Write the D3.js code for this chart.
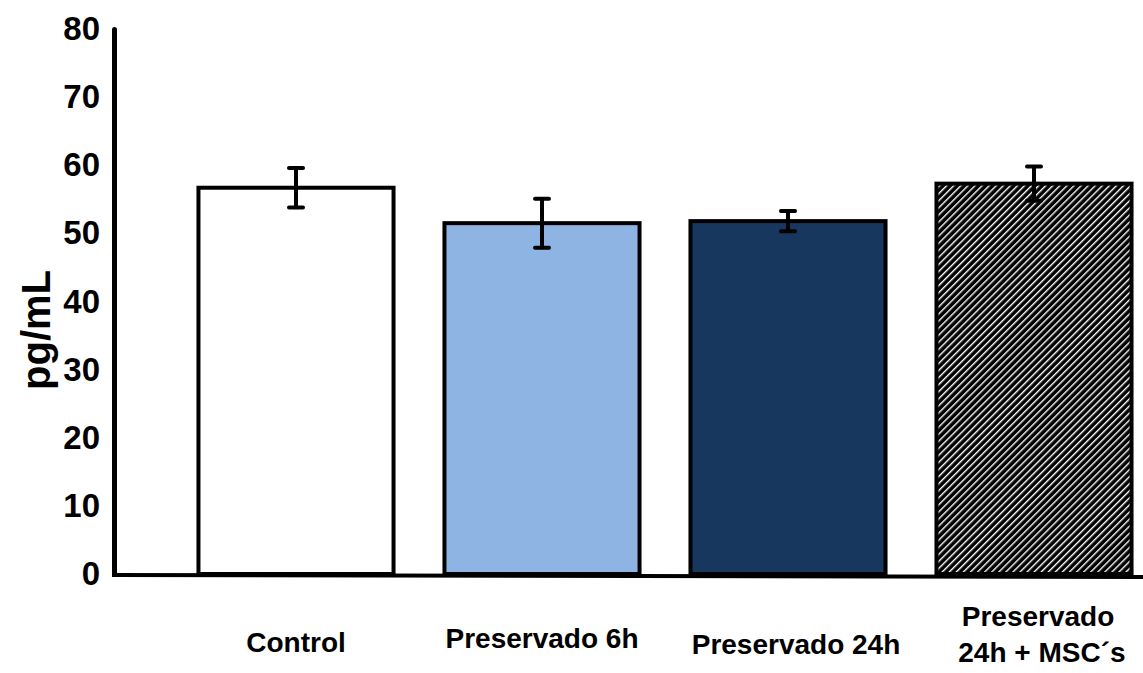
<!DOCTYPE html>
<html>
<head>
<meta charset="utf-8">
<script src="https://cdn.jsdelivr.net/npm/d3@7"></script>
<style>
  body { margin: 0; background: #fff; }
  svg { display: block; }
  text { font-family: "Liberation Sans", Arial, sans-serif; font-weight: bold; fill: #000; }
</style>
</head>
<body>
<svg id="chart" width="1143" height="673"></svg>
<script>
const categories = ["Control", "Preservado 6h", "Preservado 24h", "Preservado 24h + MSC´s"];
const labelLines = [["Control"], ["Preservado 6h"], ["Preservado 24h"], ["Preservado", " 24h + MSC´s"]];
const means = [56.7, 51.5, 51.8, 57.3];
const errors = [2.9, 3.6, 1.5, 2.5];
const fills = ["#ffffff", "#8eb4e3", "#17375e", "url(#hatch)"];
const yTicks = [0, 10, 20, 30, 40, 50, 60, 70, 80];

const svg = d3.select("#chart");

// hatch for last bar
const defs = svg.append("defs");
const pat = defs.append("pattern")
  .attr("id", "hatch")
  .attr("patternUnits", "userSpaceOnUse")
  .attr("width", 5).attr("height", 5)
  .attr("patternTransform", "rotate(45)");
pat.append("rect").attr("width", 5).attr("height", 5).attr("fill", "#000");
pat.append("rect").attr("x", 0).attr("width", 1.4).attr("height", 5).attr("fill", "#fff");

const x = d3.scaleBand()
  .domain(categories)
  .range([173, 1157])
  .paddingInner(0.207)
  .paddingOuter(0.1035);

const y = d3.scaleLinear().domain([0, 80]).range([574, 29]);

// bars
svg.selectAll(".bar")
  .data(categories)
  .join("rect")
  .attr("class", "bar")
  .attr("x", d => x(d))
  .attr("y", (d, i) => y(means[i]))
  .attr("width", x.bandwidth())
  .attr("height", (d, i) => y(0) - y(means[i]))
  .attr("fill", (d, i) => fills[i])
  .attr("stroke", "#000")
  .attr("stroke-width", 4);

// error bars
const eb = svg.selectAll(".err")
  .data(categories)
  .join("g")
  .attr("class", "err")
  .attr("transform", d => `translate(${x(d) + x.bandwidth() / 2},0)`);
eb.append("line")
  .attr("y1", (d, i) => y(means[i] + errors[i]))
  .attr("y2", (d, i) => y(means[i] - errors[i]))
  .attr("stroke", "#000").attr("stroke-width", 4);
eb.selectAll(".cap")
  .data((d, i) => [means[i] + errors[i], means[i] - errors[i]])
  .join("line")
  .attr("class", "cap")
  .attr("x1", -7).attr("x2", 7)
  .attr("y1", v => y(v)).attr("y2", v => y(v))
  .attr("stroke", "#000").attr("stroke-width", 4)
  .attr("stroke-linecap", "round");

// y axis
const yAxis = svg.append("g")
  .attr("transform", "translate(114,0)")
  .call(d3.axisLeft(y).tickValues(yTicks).tickSize(0).tickPadding(14));
yAxis.select(".domain").attr("stroke", "#000").attr("stroke-width", 5).attr("stroke-linecap", "round");
yAxis.selectAll("text")
  .style("font-family", "'Liberation Sans', Arial, sans-serif")
  .style("font-weight", "bold")
  .style("font-size", "33px");

// x baseline
svg.append("line")
  .attr("x1", 112).attr("x2", 1143)
  .attr("y1", y(0) + 1).attr("y2", y(0) + 3)
  .attr("stroke", "#000").attr("stroke-width", 4);

// y title
svg.append("text")
  .attr("transform", `translate(50,${330}) rotate(-90)`)
  .attr("text-anchor", "middle")
  .style("font-size", "40px")
  .text("pg/mL");

// category labels
const lblY = [652, 648, 654, 626];
const lbl = svg.selectAll(".cat")
  .data(categories)
  .join("text")
  .attr("class", "cat")
  .attr("text-anchor", "middle")
  .style("font-size", "28px")
  .attr("transform", (d, i) => `translate(${x(d) + x.bandwidth() / 2 + [0, 0, 8, 4][i]},${lblY[i]})`);
lbl.selectAll("tspan")
  .data((d, i) => labelLines[i])
  .join("tspan")
  .attr("x", 0)
  .attr("dy", (d, j) => j === 0 ? 0 : 36)
  .attr("xml:space", "preserve")
  .text(d => d);
</script>
</body>
</html>
